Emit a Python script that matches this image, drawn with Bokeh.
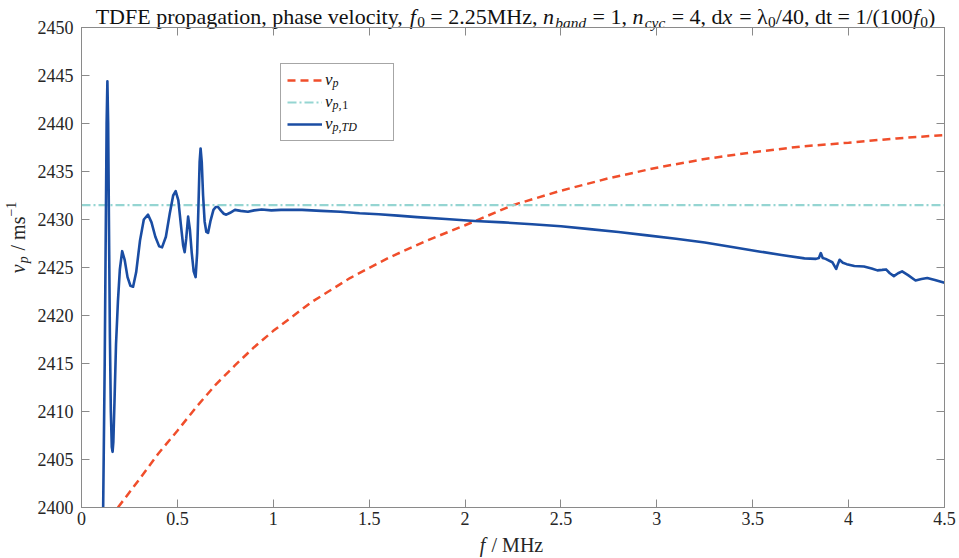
import math
from bokeh.plotting import figure
from bokeh.layouts import column, row
from bokeh.models import Range1d, LinearAxis, FixedTicker, Label, Legend, LegendItem
from bokeh.embed import file_html
from bokeh.resources import INLINE

# ---------------- data ----------------
x_ticks = [0, 0.5, 1, 1.5, 2, 2.5, 3, 3.5, 4, 4.5]
x_tick_labels = ["0", "0.5", "1", "1.5", "2", "2.5", "3", "3.5", "4", "4.5"]
y_ticks = [2400, 2405, 2410, 2415, 2420, 2425, 2430, 2435, 2440, 2445, 2450]

# v_p (analytical phase velocity)
vp_f = [0.19, 0.30, 0.40, 0.50, 0.60, 0.70, 0.80, 0.90, 1.00, 1.20, 1.40, 1.60,
        1.80, 2.00, 2.25, 2.50, 2.75, 3.00, 3.25, 3.50, 3.75, 4.00, 4.25, 4.50]
vp_v = [2400.0, 2402.9, 2405.6, 2408.0, 2410.5, 2412.8, 2414.8, 2416.7, 2418.4,
        2421.4, 2423.9, 2426.0, 2427.8, 2429.4, 2431.5, 2433.0, 2434.3, 2435.4,
        2436.3, 2437.0, 2437.6, 2438.0, 2438.45, 2438.8]

# v_p,1 (phase velocity at f0)
vp1_f = [0.0, 4.5]
vp1_v = [2431.5, 2431.5]

# v_p,TD (time-domain estimate)
td_f = [0.108, 0.113, 0.121, 0.127, 0.131, 0.135, 0.139, 0.143, 0.148, 0.153,
        0.158, 0.162, 0.166, 0.172, 0.180, 0.190, 0.200, 0.212, 0.225, 0.240,
        0.255, 0.269, 0.285, 0.305, 0.325, 0.347, 0.365, 0.385, 0.405, 0.420,
        0.440, 0.460, 0.478, 0.491, 0.505, 0.518, 0.530, 0.538, 0.546, 0.556,
        0.565, 0.575, 0.585, 0.595, 0.603, 0.610, 0.616, 0.621, 0.627, 0.634,
        0.642, 0.651, 0.660, 0.672, 0.688, 0.700, 0.712, 0.728, 0.742, 0.755,
        0.775, 0.800, 0.830, 0.868, 0.900, 0.940, 0.990, 1.040, 1.100, 1.150,
        1.250, 1.350, 1.450, 1.550, 1.650, 1.750, 1.900, 2.050, 2.200, 2.350,
        2.500, 2.650, 2.800, 2.950, 3.100, 3.250, 3.400, 3.540, 3.650, 3.770,
        3.830, 3.845, 3.855, 3.865, 3.880, 3.915, 3.935, 3.945, 3.953, 3.970,
        3.990, 4.030, 4.080, 4.120, 4.150, 4.175, 4.195, 4.215, 4.236, 4.258,
        4.279, 4.310, 4.349, 4.380, 4.410, 4.450, 4.500]
td_v = [2394.0, 2400.0, 2415.0, 2430.0, 2440.0, 2444.4, 2440.0, 2430.0, 2418.0, 2410.0,
        2406.3, 2405.8, 2406.8, 2411.0, 2417.0, 2421.5, 2424.8, 2426.7, 2425.8, 2424.0,
        2423.1, 2423.0, 2424.5, 2427.8, 2430.0, 2430.5, 2429.7, 2428.2, 2427.2, 2427.1,
        2428.2, 2430.6, 2432.5, 2432.95, 2432.0, 2429.5, 2427.3, 2426.6, 2428.0, 2430.3,
        2429.0, 2426.5, 2424.6, 2424.0, 2426.5, 2431.5, 2436.0, 2437.4, 2436.0, 2432.5,
        2429.8, 2428.7, 2428.6, 2429.8, 2431.0, 2431.3, 2431.3, 2430.9, 2430.6, 2430.5,
        2430.7, 2431.0, 2430.9, 2430.8, 2430.95, 2431.05, 2430.95, 2431.0, 2431.0, 2431.0,
        2430.9, 2430.8, 2430.65, 2430.55, 2430.4, 2430.25, 2430.05, 2429.85, 2429.7, 2429.5,
        2429.3, 2429.0, 2428.7, 2428.35, 2428.0, 2427.6, 2427.1, 2426.65, 2426.3, 2425.95,
        2425.9, 2426.0, 2426.5, 2426.0, 2425.9, 2425.55, 2424.85, 2425.4, 2425.8, 2425.5,
        2425.35, 2425.15, 2425.1, 2424.9, 2424.7, 2424.75, 2424.8, 2424.4, 2424.1, 2424.4,
        2424.6, 2424.2, 2423.65, 2423.8, 2423.9, 2423.7, 2423.4]

# ---------------- style ----------------
SERIF = "Liberation Serif"
TXT = "#262626"
AX = "#8a8a8a"
RED = "#F04E2B"
CYAN = "#95D5D2"
BLUE = "#1A4DA3"
BASE_FIX = 0.29  # em: rendered alphabetic baseline sits this much lower

T_H, OVER, B_H = 33, 18, 26
P_TOP, P_BOT = 12, 25
P_H = P_TOP + 480 + P_BOT           # 517
L_W = 34


def blank(width, height, alpha=1.0):
    f = figure(width=width, height=height, output_backend="svg", toolbar_location=None,
               title=None, x_axis_type=None, y_axis_type=None,
               x_range=Range1d(0, 1), y_range=Range1d(0, 1), min_border=0)
    f.min_border_left = f.min_border_right = f.min_border_top = f.min_border_bottom = 0
    f.outline_line_color = None
    f.grid.visible = False
    f.background_fill_color = "white"
    f.border_fill_color = "white"
    f.background_fill_alpha = alpha
    f.border_fill_alpha = alpha
    return f


T = blank(959, T_H)             # title strip (underneath the plot's top border)
L = blank(L_W, P_H, alpha=0.0)  # y-label strip
B = blank(959, B_H)             # x-label strip

p = figure(width=959 - L_W, height=P_H, output_backend="svg", toolbar_location=None,
           title=None, x_range=Range1d(0, 4.5), y_range=Range1d(2400, 2450),
           min_border_left=80 - L_W, min_border_right=15, min_border_top=P_TOP,
           min_border_bottom=P_BOT)
p.background_fill_color = "white"
p.background_fill_alpha = 0.0
p.border_fill_color = "white"
p.border_fill_alpha = 0.0
p.outline_line_color = AX
p.outline_line_width = 1
p.grid.visible = False

xt = FixedTicker(ticks=x_ticks)
yt = FixedTicker(ticks=y_ticks)


def style_axis(ax, ticker, show_labels):
    ax.ticker = ticker
    ax.axis_line_color = AX
    ax.major_tick_line_color = AX
    ax.major_tick_in = 8
    ax.major_tick_out = 0
    ax.minor_tick_line_color = None
    if show_labels:
        ax.major_label_text_font = SERIF
        ax.major_label_text_font_size = "18px"
        ax.major_label_text_color = TXT
    else:
        ax.major_label_text_font_size = "0px"
        ax.major_label_standoff = 0
        ax.major_label_text_alpha = 0


style_axis(p.xaxis[0], xt, True)
p.xaxis[0].major_label_overrides = {t: s for t, s in zip(x_ticks, x_tick_labels)}
p.xaxis[0].major_label_standoff = 4
style_axis(p.yaxis[0], yt, True)
p.yaxis[0].major_label_standoff = 8

top = LinearAxis()
style_axis(top, xt, False)
p.add_layout(top, "above")
right = LinearAxis()
style_axis(right, yt, False)
p.add_layout(right, "right")

# ---------------- data lines ----------------
r_vp = p.line(vp_f, vp_v, line_color=RED, line_width=2.5, line_dash="8 5")
r_v1 = p.line(vp1_f, vp1_v, line_color=CYAN, line_width=2.2, line_dash="9 3 2 3")
r_td = p.line(td_f, td_v, line_color=BLUE, line_width=2.6, line_join="round")

# ---------------- legend ----------------
legend = Legend(items=[LegendItem(label="v", renderers=[r_vp]),
                       LegendItem(label="v", renderers=[r_v1]),
                       LegendItem(label="v", renderers=[r_td])],
                location=(199, 366), padding=6, spacing=2, margin=0,
                glyph_width=35, glyph_height=20, label_height=20, label_width=62,
                label_standoff=3, border_line_color="#4d4d4d", border_line_width=1,
                background_fill_alpha=0.0,
                label_text_font=SERIF, label_text_font_style="italic",
                label_text_font_size="17px", label_text_color="#111111")
p.add_layout(legend)

# ---------------- text helpers ----------------
REG = {' ': 0.25, ',': 0.25, '.': 0.25, '=': 0.564, '/': 0.278, '(': 0.333, ')': 0.333,
       '−': 0.564, '-': 0.333, 'T': 0.611, 'D': 0.722, 'F': 0.556, 'E': 0.611,
       'M': 0.889, 'H': 0.722, 'a': 0.444, 'b': 0.5, 'c': 0.444, 'd': 0.5, 'e': 0.444,
       'f': 0.333, 'g': 0.5, 'h': 0.5, 'i': 0.278, 'l': 0.278, 'm': 0.778, 'n': 0.5,
       'o': 0.5, 'p': 0.5, 'r': 0.333, 's': 0.389, 't': 0.278, 'v': 0.5, 'x': 0.5,
       'y': 0.5, 'z': 0.444, 'λ': 0.5}
ITA = {'f': 0.278, 'n': 0.5, 'b': 0.5, 'a': 0.5, 'd': 0.5, 'c': 0.444, 'y': 0.444,
       'x': 0.444, 'v': 0.444, 'p': 0.5, 'T': 0.556, 'D': 0.722, ',': 0.25}


def seg_width(text, style, size):
    if not text:
        return 0.0
    table = ITA if style == "italic" else REG
    w = sum(table.get(ch, 0.5) for ch in text) * size
    if style == "italic":
        w += 0.06 * size
    return w


def place(fig, segments, x0, y0, size, rotated=False, center=True, color=TXT):
    """x0, y0: wanted baseline anchor in the figure frame (bottom-left origin)."""
    sizes = [size * 0.7 if lvl else size for _, _, lvl in segments]
    total = sum(seg_width(t, st, s) for (t, st, _), s in zip(segments, sizes))
    pos = (x0 if not rotated else y0) - (total / 2 if center else 0)
    for (text, st, lvl), s in zip(segments, sizes):
        lead = len(text) - len(text.lstrip(" "))
        trail = len(text) - len(text.rstrip(" "))
        core = text.strip(" ")
        pos += lead * REG[" "] * s
        shift = -0.2 * size if lvl < 0 else (0.42 * size if lvl > 0 else 0.0)
        shift += BASE_FIX * s
        if core:
            if not rotated:
                x, y = pos, y0 + shift
            else:
                x, y = x0 - shift, pos
            fig.add_layout(Label(x=x, y=y, x_units="screen", y_units="screen",
                                 text=core, angle=(math.pi / 2 if rotated else 0.0),
                                 text_font=SERIF, text_font_style=st,
                                 text_font_size=f"{s:.1f}px", text_align="left",
                                 text_baseline="alphabetic", text_color=color))
        pos += seg_width(core, st, s) + trail * REG[" "] * s


N, I = "normal", "italic"
title_segs = [("TDFE propagation, phase velocity, ", N, 0), ("f", I, 0), ("0", N, -1),
              (" = 2.25MHz, ", N, 0), ("n", I, 0), ("band", I, -1), (" = 1, ", N, 0),
              ("n", I, 0), ("cyc", I, -1), (" = 4, d", N, 0), ("x", I, 0),
              (" = λ", N, 0), ("0", N, -1), ("/40, dt = 1/(100", N, 0), ("f", I, 0),
              ("0", N, -1), (")", N, 0)]
place(T, title_segs, 515, T_H - 22, 22, color="#111111")

xlabel_segs = [("f", I, 0), (" / MHz", N, 0)]
place(B, xlabel_segs, 511, B_H - 18, 20)

# L spans picture rows (T_H - OVER) .. (T_H - OVER + P_H)
L_BOTTOM = T_H - OVER + P_H
ylabel_segs = [("v", I, 0), ("p", I, -1), (" / ms", N, 0), ("−1", N, 1)]
place(L, ylabel_segs, 23, L_BOTTOM - 262, 20, rotated=True)

sub_rows = [[("p", I, 0)], [("p,", I, 0), ("1", N, 0)], [("p,TD", I, 0)]]
for i, segs in enumerate(sub_rows):
    place(p, segs, 251, 421 - 22 * i, 12, center=False, color="#111111")

middle = row(L, p, margin=(-OVER, 0, 0, 0))
layout = column(T, middle, B)
open("out.html", "w").write(file_html(layout, INLINE))
